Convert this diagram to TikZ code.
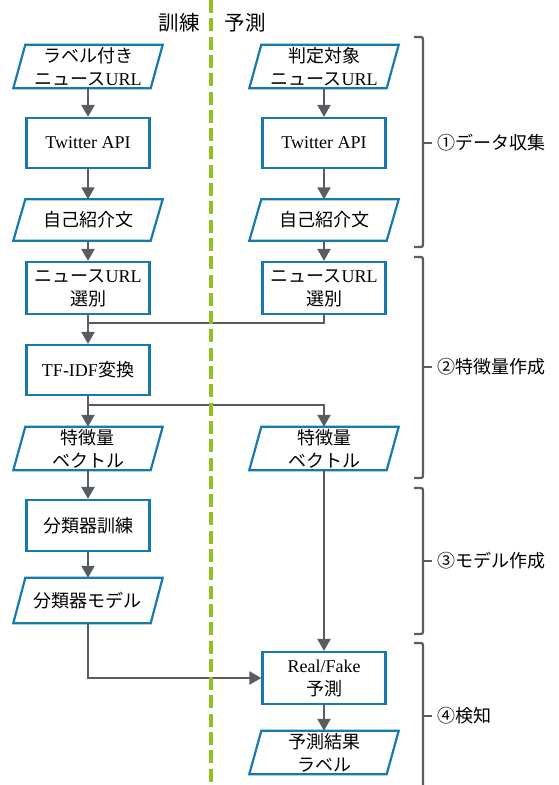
\documentclass[tikz,border=0pt]{standalone}
\usepackage{fontspec}
\setmainfont{Liberation Serif}
\newfontfamily\jp{Noto Sans CJK JP}
\usetikzlibrary{arrows.meta}
\definecolor{boxblue}{RGB}{24,121,173}
\definecolor{linegray}{RGB}{88,92,99}
\definecolor{dashgreen}{RGB}{141,194,31}
\newcommand\paraoutline[1]{\draw[paraline] ([xshift=-6pt]#1.south west) -- ([xshift=-6pt]#1.south east) -- ([xshift=6pt]#1.north east) -- ([xshift=6pt]#1.north west) -- cycle;}
\begin{document}
\begin{tikzpicture}[x=1pt,y=-1pt,
  every node/.style={font=\fontsize{18}{23}\selectfont, align=center, inner sep=0pt},
  heading/.style={font=\fontsize{20.5}{24}\selectfont},
  procbox/.style={draw=boxblue, line width=2.2pt, minimum width=123pt, minimum height=50pt},
  parabox/.style={minimum width=137pt, minimum height=43pt},
  paraline/.style={draw=boxblue, line width=2.2pt, line join=miter},
  conn/.style={draw=linegray, line width=2.2pt, -{Triangle[length=12pt,width=13pt]}},
  connplain/.style={draw=linegray, line width=2.2pt},
  bracket/.style={draw=linegray, line width=2.2pt, rounded corners=2pt},
  greendash/.style={draw=dashgreen, line width=4.5pt, dash pattern=on 13pt off 5.3pt}
]
\useasboundingbox (0,0) rectangle (559,785);

% headings
\node[heading] (hTrain) at (179,23) {\jp 訓練};
\node[heading] (hPred) at (245,23) {\jp 予測};

% left column
\node[parabox] (L1) at (88,66.5) {{\jp ラベル付き}\\{\jp ニュース}URL};
\node[procbox] (L2) at (88,143) {Twitter API};
\node[parabox, minimum height=41pt] (L3) at (88,220) {\jp 自己紹介文};
\node[procbox, minimum height=52pt] (L4) at (88,288) {{\jp ニュース}URL\\{\jp 選別}};
\node[procbox] (L5) at (88,370) {TF-IDF{\jp 変換}};
\node[parabox] (L6) at (88,448.5) {{\jp 特徴量}\\{\jp ベクトル}};
\node[procbox, minimum height=51pt] (L7) at (88,525.5) {\jp 分類器訓練};
\node[parabox, minimum height=45pt] (L8) at (88,600.5) {\jp 分類器モデル};

% right column
\node[parabox] (R1) at (324,66.5) {{\jp 判定対象}\\{\jp ニュース}URL};
\node[procbox] (R2) at (324,143) {Twitter API};
\node[parabox, minimum height=41pt] (R3) at (324,220) {\jp 自己紹介文};
\node[procbox, minimum height=52pt] (R4) at (324,288) {{\jp ニュース}URL\\{\jp 選別}};
\node[parabox] (R6) at (324,448.5) {{\jp 特徴量}\\{\jp ベクトル}};
\node[procbox, minimum height=52pt] (RF) at (324,678) {Real/Fake\\{\jp 予測}};
\node[parabox] (RL) at (324,752.5) {{\jp 予測結果}\\{\jp ラベル}};

\paraoutline{L1}
\paraoutline{L3}
\paraoutline{L6}
\paraoutline{L8}
\paraoutline{R1}
\paraoutline{R3}
\paraoutline{R6}
\paraoutline{RL}

% connectors
\coordinate (j1) at (88,323);
\coordinate (j2) at (324,405);
\draw[conn] (L1) -- (L2);
\draw[conn] (L2) -- (L3);
\draw[conn] (L3) -- (L4);
\draw[conn] (L4) -- (L5);
\draw[connplain] (R4.south) |- (j1);
\draw[conn] (L5) -- (L6);
\draw[conn] (L5.south) |- (j2) -- (R6.north);
\draw[conn] (L6) -- (L7);
\draw[conn] (L7) -- (L8);
\draw[conn] (L8.south) |- (RF.west);
\draw[conn] (R1) -- (R2);
\draw[conn] (R2) -- (R3);
\draw[conn] (R3) -- (R4);
\draw[conn] (R6) -- (RF);
\draw[conn] (RF) -- (RL);

% green divider
\draw[greendash] (211,0) -- (211,785);

% brackets
\draw[bracket] (414,37) -- (423,37) -- (423,247) -- (414,247);
\draw[connplain] (423,143) -- (432,143);
\node[anchor=west] (B1) at (437,143) {\jp ①データ収集};
\draw[bracket] (414,257) -- (423,257) -- (423,478) -- (414,478);
\draw[connplain] (423,367) -- (432,367);
\node[anchor=west] (B2) at (437,367) {\jp ②特徴量作成};
\draw[bracket] (414,488) -- (423,488) -- (423,634) -- (414,634);
\draw[connplain] (423,561) -- (432,561);
\node[anchor=west] (B3) at (437,561) {\jp ③モデル作成};
\draw[bracket] (414,643) -- (423,643) -- (423,800);
\draw[connplain] (423,716) -- (432,716);
\node[anchor=west] (B4) at (437,716) {\jp ④検知};
\end{tikzpicture}
\end{document}
